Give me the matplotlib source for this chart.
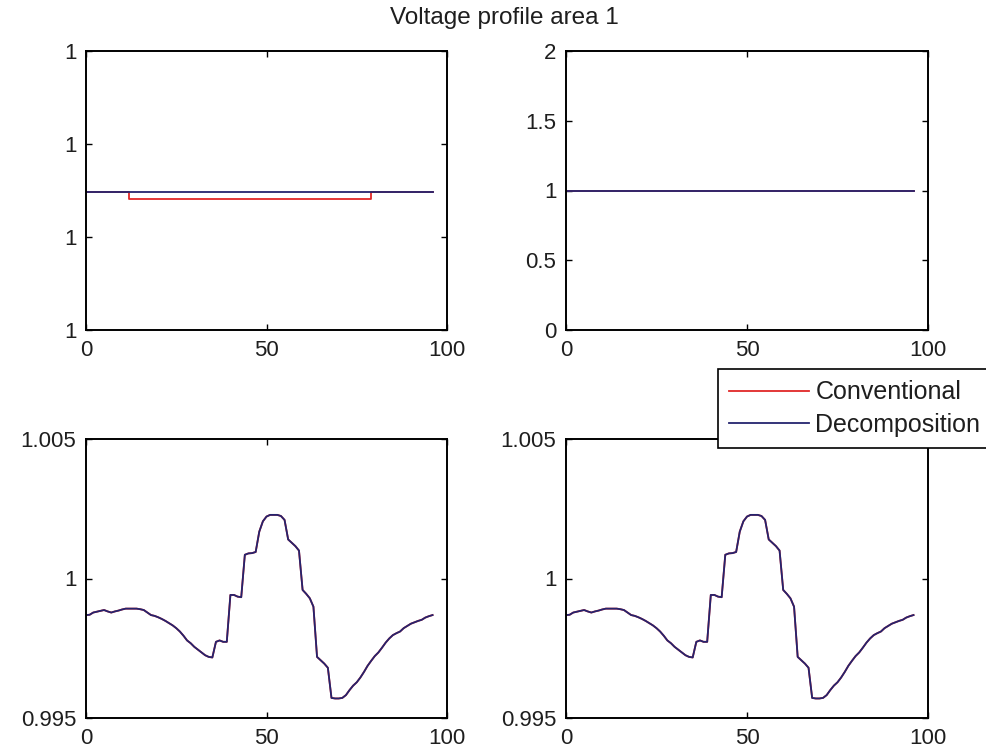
import numpy as np
import matplotlib
matplotlib.use("Agg")
import matplotlib.pyplot as plt
from matplotlib.ticker import FixedLocator, FixedFormatter

# ========= 字体 =========
plt.rcParams["font.family"] = ["Liberation Sans", "DejaVu Sans"]
plt.rcParams["font.size"] = 16

# ========= 数据 =========
# time index (15-min steps)
t = np.arange(0, 97)

# bottom panels: voltage profile (both methods are practically identical)
v_decomp = [
    0.99869, 0.99870, 0.99878, 0.99881, 0.99884, 0.99887, 0.99882, 0.99878, 0.99882, 0.99885,
    0.99889, 0.99892, 0.99892, 0.99892, 0.99892, 0.99890, 0.99887, 0.99878, 0.99869, 0.99866,
    0.99861, 0.99855, 0.99848, 0.99840, 0.99832, 0.99822, 0.99810, 0.99795, 0.99778, 0.99768,
    0.99755, 0.99745, 0.99735, 0.99725, 0.99719, 0.99717, 0.99773, 0.99778, 0.99773, 0.99773,
    0.99941, 0.99941, 0.99935, 0.99933, 1.00085, 1.00090, 1.00091, 1.00095, 1.00168, 1.00205,
    1.00222, 1.00228, 1.00228, 1.00228, 1.00224, 1.00210, 1.00140, 1.00128, 1.00116, 1.00100,
    0.99959, 0.99945, 0.99929, 0.99899, 0.99719, 0.99707, 0.99695, 0.99680, 0.99572, 0.99570,
    0.99570, 0.99572, 0.99582, 0.99600, 0.99616, 0.99628, 0.99645, 0.99665, 0.99687, 0.99705,
    0.99722, 0.99735, 0.99752, 0.99770, 0.99785, 0.99797, 0.99804, 0.99810, 0.99822, 0.99830,
    0.99838, 0.99843, 0.99848, 0.99852, 0.99860, 0.99865, 0.99869,
]
v_conv = list(v_decomp)

# top-left panel: tiny offset between methods (all tick labels read "1")
tl_decomp_x = [0, 96]
tl_decomp_y = [0.99999998, 0.99999998]
tl_conv_x = [0, 12, 79, 96]
tl_conv_y = [0.99999998, 0.99999991, 0.99999998, 0.99999998]
tl_ticks = [0.9999985, 0.9999995, 1.0000005, 1.0000015]

# top-right panel
tr_x = [0, 96]
tr_conv_y = [1.0, 1.0]
tr_decomp_y = [1.0, 1.0]

RED = "#e02828"
BLUE = "#24246e"
TXT = "#1e1e1e"

# ========= 画布 =========
W, H = 987, 753
fig = plt.figure(figsize=(W / 100, H / 100), dpi=100)
fig.patch.set_facecolor("white")


def make_ax(left, top, right, bottom):
    ax = fig.add_axes([left / W, 1 - bottom / H, (right - left) / W, (bottom - top) / H])
    for s in ax.spines.values():
        s.set_linewidth(1.4)
        s.set_color("black")
    ax.tick_params(direction="in", top=True, right=True, length=4, width=1.0,
                   pad=7, labelcolor=TXT, colors="black", labelsize=16)
    ax.set_xlim(0, 100)
    ax.set_xticks([0, 50, 100])
    return ax


ax1 = make_ax(86, 51, 447, 330)
ax2 = make_ax(566, 51, 928, 330)
ax3 = make_ax(86, 439, 447, 718)
ax4 = make_ax(566, 439, 928, 718)

# 图 1
ax1.plot(tl_conv_x, tl_conv_y, color=RED, lw=1.3, drawstyle="steps-post", label="Conventional")
ax1.plot(tl_decomp_x, tl_decomp_y, color=BLUE, lw=1.3, label="Decomposition")
ax1.set_ylim(tl_ticks[0], tl_ticks[-1])
ax1.yaxis.set_major_locator(FixedLocator(tl_ticks))
ax1.yaxis.set_major_formatter(FixedFormatter(["1"] * len(tl_ticks)))

# 图 2
ax2.plot(tr_x, tr_conv_y, color=RED, lw=1.3)
ax2.plot(tr_x, tr_decomp_y, color=BLUE, lw=1.3)
ax2.set_ylim(0, 2)
ax2.set_yticks([0, 0.5, 1, 1.5, 2])
ax2.set_yticklabels(["0", "0.5", "1", "1.5", "2"])

# 图 3, 4
for ax in (ax3, ax4):
    ax.plot(t, v_conv, color=RED, lw=1.3)
    ax.plot(t, v_decomp, color=BLUE, lw=1.3)
    ax.set_ylim(0.995, 1.005)
    ax.set_yticks([0.995, 1.0, 1.005])
    ax.set_yticklabels(["0.995", "1", "1.005"])

fig.text(504 / W, 1 - 18 / H, "Voltage profile area 1", ha="center", va="center",
         color=TXT, fontsize=17.5)

h, l = ax1.get_legend_handles_labels()
leg = fig.legend(h, l, loc="upper left", bbox_to_anchor=(718 / W, 1 - 369 / H),
                 fancybox=False, framealpha=1, edgecolor="black", fontsize=18,
                 handlelength=3.2, handletextpad=0.25, labelspacing=0.35,
                 borderpad=0.45, borderaxespad=0)
leg.get_frame().set_linewidth(1.2)
for txt in leg.get_texts():
    txt.set_color(TXT)

fig.savefig("out.png", dpi=100)
